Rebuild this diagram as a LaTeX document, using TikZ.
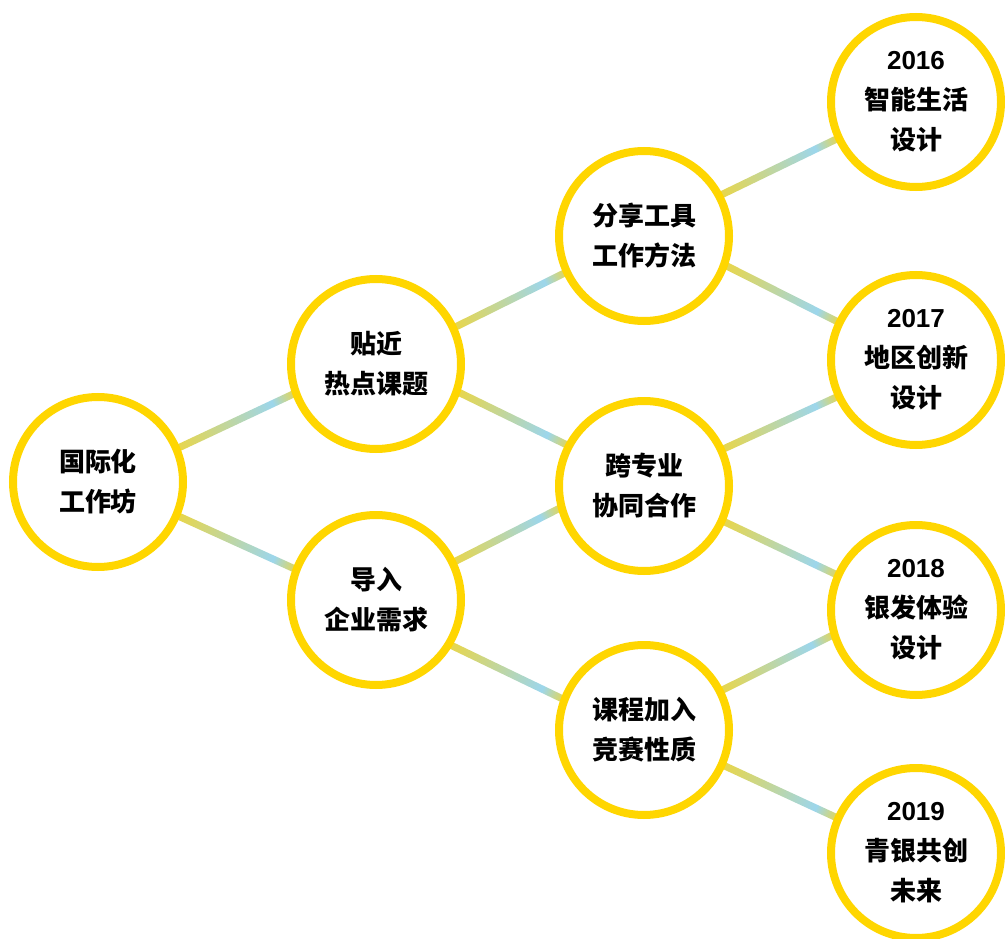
\documentclass[tikz,border=0pt]{standalone}
\usepackage{fontspec}
\usetikzlibrary{calc,backgrounds}
\newfontfamily\cjk{Noto Sans CJK SC}
\newfontfamily\lat{Liberation Sans}
\definecolor{cy}{RGB}{255,214,0}
\definecolor{ly}{RGB}{234,214,70}
\definecolor{lb}{RGB}{156,214,236}
\pgfdeclarehorizontalshading{connshade}{100bp}{color(0bp)=(ly); color(25bp)=(ly); color(65bp)=(lb); color(75bp)=(ly); color(100bp)=(ly)}
\tikzset{
  ring/.style={circle, draw=cy, fill=white, line width=8pt, minimum size=170pt, inner sep=0pt,
    align=center, font=\cjk\bfseries\fontsize{26}{40}\selectfont},
}
\newcommand\yr[1]{{\lat\bfseries #1}}
% connector: source node, border angle, target node, border angle
\newcommand\gconn[4]{%
  \path let \p1=(#1.#2), \p2=(#3.#4),
    \n1={atan2(\y2-\y1,\x2-\x1)}, \n2={veclen(\x2-\x1,\y2-\y1)} in
    \pgfextra{\pgfmathsetmacro\gA{\n1}\pgfmathsetmacro\gL{\n2}\global\let\gA\gA\global\let\gL\gL\xdef\gX{\x1}\xdef\gY{\y1}};
  \begin{scope}[transform canvas={shift={(\gX,\gY)},rotate=\gA}]
    \shade[shading=connshade] (-5pt,-3.6pt) rectangle ({(\gL+5)*1pt},3.6pt);
  \end{scope}}
\begin{document}
\begin{tikzpicture}[x=1pt,y=-1pt]
\useasboundingbox (0,0) rectangle (1005,939);
\node[ring] (a) at (98,482) {国际化\\工作坊};
\node[ring] (b1) at (376,364) {贴近\\热点课题};
\node[ring] (b2) at (376,600) {导入\\企业需求};
\node[ring] (c1) at (644,236) {分享工具\\工作方法};
\node[ring] (c2) at (644,486) {跨专业\\协同合作};
\node[ring] (c3) at (644,730) {课程加入\\竞赛性质};
\node[ring] (d1) at (916,102) {\yr{2016}\\智能生活\\设计};
\node[ring] (d2) at (916,360) {\yr{2017}\\地区创新\\设计};
\node[ring] (d3) at (916,610) {\yr{2018}\\银发体验\\设计};
\node[ring] (d4) at (916,853) {\yr{2019}\\青银共创\\未来};
\begin{pgfonlayer}{background}
\gconn{a}{23}{b1}{200}
\gconn{a}{-23}{b2}{159}
\gconn{b1}{25}{c1}{205}
\gconn{b1}{-19}{c2}{152}
\gconn{b2}{26}{c2}{195}
\gconn{b2}{-31}{c3}{159}
\gconn{c1}{28}{d1}{205}
\gconn{c1}{-20}{d2}{154}
\gconn{c2}{25}{d2}{205}
\gconn{c2}{-24}{d3}{156}
\gconn{c3}{27}{d3}{197}
\gconn{c3}{-24}{d4}{156}
\end{pgfonlayer}
\end{tikzpicture}
\end{document}
